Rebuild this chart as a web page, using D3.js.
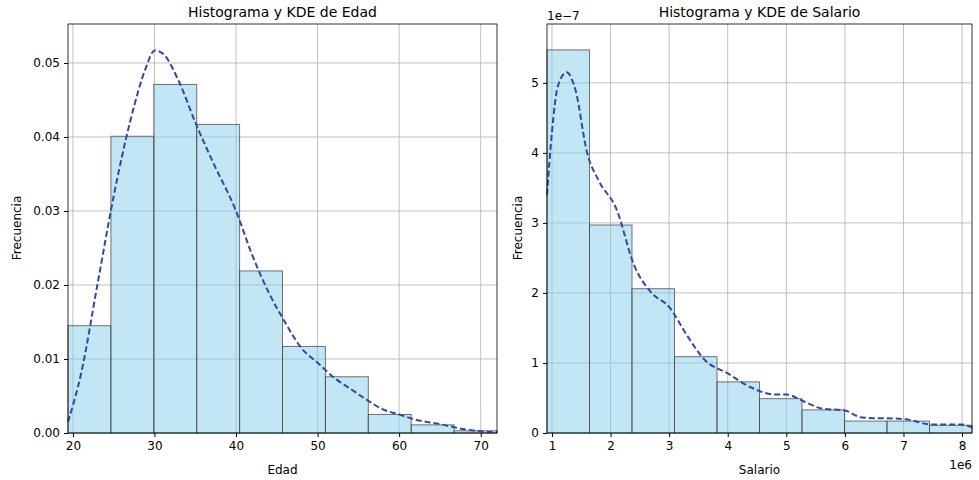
<!DOCTYPE html>
<html><head><meta charset="utf-8">
<script src="https://cdn.jsdelivr.net/npm/d3@7"></script>
<style>body{margin:0;background:#fff;font-family:"DejaVu Sans",sans-serif;}</style>
</head><body><svg id="c" width="979" height="480"></svg>
<script>
// Edad
var edadDomain = [19.4, 72];
var edadBinStart = 19.4, edadBinWidth = 5.26;
var edadCounts = [0.0145, 0.0401, 0.0471, 0.0417, 0.0219, 0.0117, 0.0076, 0.0025, 0.0011, 0.0003];
var edadKdeX = [19.4, 21, 23, 25, 27, 29, 30, 31, 33, 35, 37, 40, 42, 44, 46, 48, 50, 52, 54, 56, 58, 60, 62, 65, 68, 72];
var edadKdeY = [0.0015, 0.008, 0.02, 0.032, 0.042, 0.0495, 0.0517, 0.0513, 0.0475, 0.042, 0.037, 0.030, 0.024, 0.019, 0.015, 0.0115, 0.0095, 0.0075, 0.006, 0.0045, 0.0032, 0.0025, 0.0018, 0.0012, 0.0005, 0.0001];
var edadXTicks = [20, 30, 40, 50, 60, 70];
var edadYTicks = [0, 0.01, 0.02, 0.03, 0.04, 0.05];

// Salario (x in 1e6, y in 1e-7)
var salDomain = [0.915, 8.17];
var salBinStart = 0.915, salBinWidth = 0.7255;
var salCounts = [5.47, 2.97, 2.06, 1.09, 0.73, 0.49, 0.33, 0.17, 0.17, 0.11];
var salKdeX = [0.915, 1.0, 1.1, 1.25, 1.4, 1.6, 1.8, 2.1, 2.4, 2.7, 3.0, 3.3, 3.6, 4.0, 4.4, 4.8, 5.0, 5.3, 5.6, 6.0, 6.3, 7.0, 7.5, 8.0, 8.17];
var salKdeY = [3.4, 4.3, 4.95, 5.15, 4.9, 4.0, 3.6, 3.2, 2.4, 2.0, 1.8, 1.4, 1.05, 0.85, 0.65, 0.55, 0.55, 0.45, 0.35, 0.32, 0.22, 0.2, 0.12, 0.12, 0.08];
var salXTicks = [1, 2, 3, 4, 5, 6, 7, 8];
var salYTicks = [0, 1, 2, 3, 4, 5];

var svg = d3.select('#c');

function panel(o) {
    var x = d3.scaleLinear().domain(o.xd).range([o.left, o.right]);
    var y = d3.scaleLinear().domain(o.yd).range([433, 24]);
    var g = svg.append('g');
    g.selectAll('.gx').data(o.xt).enter().append('line')
        .attr('x1', d => x(d)).attr('x2', d => x(d)).attr('y1', 24).attr('y2', 433)
        .attr('stroke', '#b0b0b0').attr('stroke-width', 0.8);
    g.selectAll('.gy').data(o.yt).enter().append('line')
        .attr('y1', d => y(d)).attr('y2', d => y(d)).attr('x1', o.left).attr('x2', o.right)
        .attr('stroke', '#b0b0b0').attr('stroke-width', 0.8);
    g.selectAll('.bar').data(o.counts).enter().append('rect')
        .attr('x', (d, i) => x(o.b0 + i * o.bw))
        .attr('width', (d, i) => x(o.b0 + (i + 1) * o.bw) - x(o.b0 + i * o.bw))
        .attr('y', d => y(d)).attr('height', d => 433 - y(d))
        .attr('fill', 'rgba(135,206,235,0.5)').attr('stroke', '#3a3a3a').attr('stroke-opacity', 0.7).attr('stroke-width', 1);
    var line = d3.line().curve(d3.curveMonotoneX).x(d => x(d[0])).y(d => y(d[1]));
    g.append('path').datum(o.kx.map((v, i) => [v, o.ky[i]])).attr('d', line)
        .attr('fill', 'none').attr('stroke', '#2e49a8').attr('stroke-width', 2).attr('stroke-dasharray', '6,3');
    g.append('rect').attr('x', o.left).attr('y', 24).attr('width', o.right - o.left).attr('height', 409)
        .attr('fill', 'none').attr('stroke', '#000').attr('stroke-width', 0.8);
    var xa = g.append('g').attr('transform', 'translate(0,433)')
        .call(d3.axisBottom(x).tickValues(o.xt).tickSize(4).tickPadding(4).tickFormat(o.xf));
    var ya = g.append('g').attr('transform', 'translate(' + o.left + ',0)')
        .call(d3.axisLeft(y).tickValues(o.yt).tickSize(4).tickPadding(4).tickFormat(o.yf));
    [xa, ya].forEach(a => {
        a.select('.domain').remove();
        a.selectAll('text').attr('font-size', 12).attr('fill', '#000').attr('font-family', 'DejaVu Sans');
    });
    g.append('text').attr('x', (o.left + o.right) / 2).attr('y', 17).attr('text-anchor', 'middle')
        .attr('font-size', 14).text(o.title);
    g.append('text').attr('x', (o.left + o.right) / 2).attr('y', 474).attr('text-anchor', 'middle')
        .attr('font-size', 12).text(o.xl);
    g.append('text').attr('transform', 'translate(' + o.yl + ',228) rotate(-90)').attr('text-anchor', 'middle')
        .attr('font-size', 12).text('Frecuencia');
}

panel({left: 68, right: 497, xd: edadDomain, yd: [0, 0.05527], xt: edadXTicks, yt: edadYTicks,
    counts: edadCounts, b0: edadBinStart, bw: edadBinWidth, kx: edadKdeX, ky: edadKdeY,
    xf: d3.format('d'), yf: d3.format('.2f'), title: 'Histograma y KDE de Edad', xl: 'Edad', yl: 21});
panel({left: 547, right: 972, xd: salDomain, yd: [0, 5.84], xt: salXTicks, yt: salYTicks,
    counts: salCounts, b0: salBinStart, bw: salBinWidth, kx: salKdeX, ky: salKdeY,
    xf: d3.format('d'), yf: d3.format('d'), title: 'Histograma y KDE de Salario', xl: 'Salario', yl: 522});
svg.append('text').attr('x', 547).attr('y', 20).attr('font-size', 12).text('1e\u22127');
svg.append('text').attr('x', 972).attr('y', 469).attr('text-anchor', 'end').attr('font-size', 12).text('1e6');
</script></body></html>
